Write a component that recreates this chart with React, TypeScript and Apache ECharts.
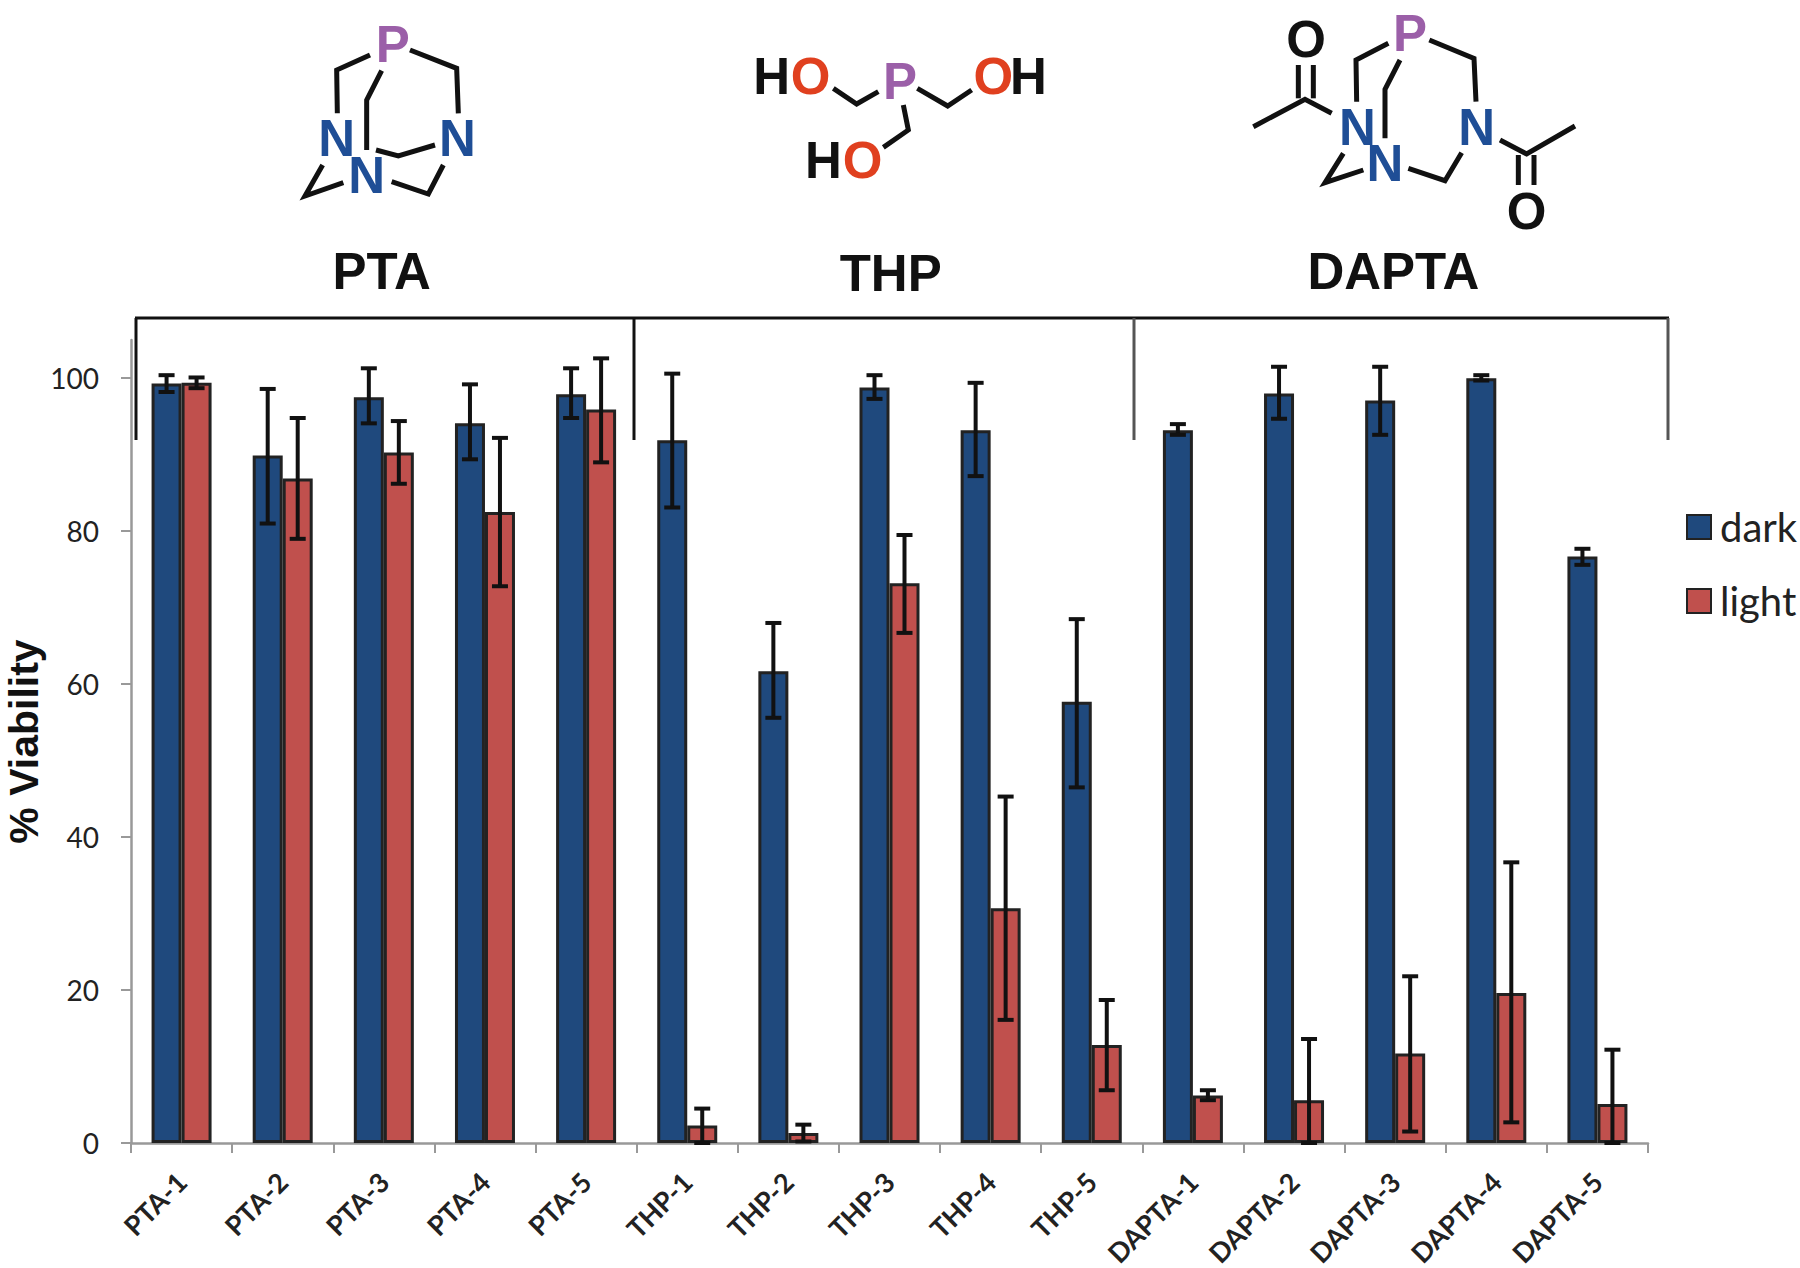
import React, { useEffect, useRef } from "react";
import * as echarts from "echarts";

const categories = ["PTA-1","PTA-2","PTA-3","PTA-4","PTA-5","THP-1","THP-2","THP-3","THP-4","THP-5","DAPTA-1","DAPTA-2","DAPTA-3","DAPTA-4","DAPTA-5"];
const darkValues = [99.3,89.9,97.5,94.1,97.9,91.9,61.7,98.8,93.2,57.7,93.2,98.0,97.1,100.0,76.7];
const darkHigh = [100.4,98.6,101.3,99.2,101.3,100.6,68.0,100.4,99.4,68.5,94.0,101.5,101.5,100.4,77.7];
const darkLow = [98.2,81.0,94.1,89.4,94.8,83.1,55.6,97.3,87.2,46.5,92.6,94.7,92.6,99.7,75.6];
const lightValues = [99.4,86.9,90.3,82.5,95.9,2.3,1.3,73.2,30.7,12.8,6.2,5.6,11.7,19.6,5.1];
const lightHigh = [100.1,94.8,94.4,92.2,102.6,4.5,2.4,79.5,45.3,18.7,6.9,13.6,21.8,36.7,12.2];
const lightLow = [98.7,79.0,86.2,72.8,89.0,0,0.2,66.7,16.1,6.9,5.6,0,1.5,2.7,0];
const yTicks = [0,20,40,60,80,100];

const DARK = "#1F497D";
const LIGHT = "#C0504D";
const BORDER = "#222222";
const BAR_W = 30;
const ARIAL = "'Liberation Sans', Arial, sans-serif";
const LATO = "Lato, sans-serif";
const PURPLE = "#9B5FA8";
const BLUE = "#1F4E96";
const RED = "#E0401F";
const INK = "#111111";

type Pt = [number, number];
const poly = (ox: number, oy: number, pts: Pt[], color = INK, lineWidth = 5) => ({
  type: "polyline",
  silent: true,
  shape: { points: pts.map(([x, y]) => [ox + x / 3, oy + y / 3]) },
  style: { stroke: color, lineWidth, fill: "none", lineJoin: "miter" },
});
const atom = (ox: number, oy: number, text: string, x: number, y: number, fill: string, size = 51) => ({
  type: "text",
  silent: true,
  x: ox + x / 3,
  y: oy + y / 3,
  style: { text, fill, font: `bold ${size}px ${ARIAL}`, textAlign: "center", textVerticalAlign: "middle" },
});
const bracket = (x1: number, y1: number, x2: number, y2: number, color: string) => ({
  type: "line",
  silent: true,
  shape: { x1, y1, x2, y2 },
  style: { stroke: color, lineWidth: 3 },
});

const molecules = () => [
  // PTA
  poly(250, 0, [[360,165],[260,210],[262,340]]),
  poly(250, 0, [[480,150],[620,205],[625,340]]),
  poly(250, 0, [[395,212],[350,300],[350,450]]),
  poly(250, 0, [[378,450],[445,468],[555,435]]),
  poly(250, 0, [[218,495],[165,588],[280,548]]),
  poly(250, 0, [[425,545],[535,582],[580,495]]),
  atom(250, 0, "P", 428, 132, PURPLE),
  atom(250, 0, "N", 260, 415, BLUE),
  atom(250, 0, "N", 350, 527, BLUE),
  atom(250, 0, "N", 622, 415, BLUE),
  atom(250, 0, "PTA", 395, 815, INK),
  // THP
  poly(720, 30, [[340,175],[410,222],[475,185]]),
  poly(720, 30, [[592,175],[683,228],[755,180]]),
  poly(720, 30, [[550,225],[565,300],[490,352]]),
  atom(720, 30, "H", 155, 140, INK),
  atom(720, 30, "O", 272, 140, RED),
  atom(720, 30, "P", 540, 155, PURPLE),
  atom(720, 30, "O", 820, 140, RED),
  atom(720, 30, "H", 925, 140, INK),
  atom(720, 30, "H", 310, 392, INK),
  atom(720, 30, "O", 428, 392, RED),
  atom(720, 30, "THP", 512, 730, INK),
  // DAPTA
  poly(1220, 0, [[505,130],[408,180],[410,305]]),
  poly(1220, 0, [[628,120],[762,175],[768,305]]),
  poly(1220, 0, [[540,180],[495,268],[495,415]]),
  poly(1220, 0, [[100,380],[255,298],[335,340]]),
  poly(1220, 0, [[235,195],[235,295]]),
  poly(1220, 0, [[280,195],[280,295]]),
  poly(1220, 0, [[370,460],[315,548],[430,510]]),
  poly(1220, 0, [[565,505],[675,542],[725,458]]),
  poly(1220, 0, [[840,420],[920,462],[1065,378]]),
  poly(1220, 0, [[895,465],[895,555]]),
  poly(1220, 0, [[942,465],[942,555]]),
  atom(1220, 0, "P", 570, 100, PURPLE),
  atom(1220, 0, "O", 258, 118, INK),
  atom(1220, 0, "N", 412, 382, BLUE),
  atom(1220, 0, "N", 495, 490, BLUE),
  atom(1220, 0, "N", 770, 382, BLUE),
  atom(1220, 0, "O", 920, 635, INK),
  atom(1220, 0, "DAPTA", 520, 815, INK),
  // group bracket
  bracket(135, 318, 1669, 318, "#111111"),
  bracket(136, 318, 136, 440, "#111111"),
  bracket(634, 318, 634, 440, "#111111"),
  bracket(1134, 318, 1134, 440, "#555555"),
  bracket(1668, 318, 1668, 440, "#555555"),
];

const errorSeries = (low: number[], high: number[], side: number) => ({
  type: "custom",
  silent: true,
  z: 5,
  data: categories.map((_, i) => [i, low[i], high[i]]),
  encode: { x: 0, y: [1, 2] },
  renderItem: (_p: any, api: any) => {
    const i = api.value(0);
    const a = api.coord([i, api.value(1)]);
    const b = api.coord([i, api.value(2)]);
    const x = a[0] + (side * BAR_W) / 2;
    const style = { stroke: INK, lineWidth: 4, fill: "none" };
    const cap = 8;
    return {
      type: "group",
      children: [
        { type: "line", shape: { x1: x, y1: a[1], x2: x, y2: b[1] }, style },
        { type: "line", shape: { x1: x - cap, y1: a[1], x2: x + cap, y2: a[1] }, style },
        { type: "line", shape: { x1: x - cap, y1: b[1], x2: x + cap, y2: b[1] }, style },
      ],
    };
  },
});

export default function App() {
  const ref = useRef<HTMLDivElement>(null);
  useEffect(() => {
    const chart = echarts.init(ref.current!, undefined, { renderer: "svg" });
    const barStyle = (color: string) => ({ color, borderColor: BORDER, borderWidth: 3 });
    chart.setOption({
      animation: false,
      backgroundColor: "#ffffff",
      grid: { left: 131, top: 340, width: 1517, height: 803, containLabel: false, outerBoundsMode: "none" },
      legend: {
        orient: "vertical",
        left: 1686,
        top: 507,
        itemWidth: 24,
        itemHeight: 24,
        itemGap: 34,
        padding: 0,
        selectedMode: false,
        icon: "rect",
        data: ["dark", "light"],
        textStyle: { fontFamily: LATO, fontSize: 40, color: "#222222", padding: [0, 0, 0, 4] },
      },
      xAxis: {
        type: "category",
        data: categories,
        axisLine: { lineStyle: { color: "#999999", width: 2.5 } },
        axisTick: { show: true, alignWithLabel: false, length: 10, lineStyle: { color: "#999999", width: 2 } },
        axisLabel: { interval: 0, rotate: 45, margin: 34, fontFamily: LATO, fontWeight: "bold", fontSize: 27, color: "#222222" },
      },
      yAxis: {
        type: "value",
        min: 0,
        max: 105,
        interval: 20,
        name: "% Viability",
        nameLocation: "middle",
        nameGap: 87,
        nameMoveOverlap: false,
        nameTextStyle: { fontFamily: ARIAL, fontWeight: "bold", fontSize: 41, color: "#111111" },
        splitLine: { show: false },
        axisLine: { show: true, lineStyle: { color: "#999999", width: 2.5 } },
        axisTick: { show: true, length: 10, customValues: yTicks, lineStyle: { color: "#999999", width: 2 } },
        axisLabel: { customValues: yTicks, margin: 32, fontFamily: LATO, fontSize: 28, color: "#222222" },
      },
      series: [
        { name: "dark", type: "bar", data: darkValues, barWidth: BAR_W, barGap: "0%", itemStyle: barStyle(DARK) },
        { name: "light", type: "bar", data: lightValues, barWidth: BAR_W, barGap: "0%", itemStyle: barStyle(LIGHT) },
        errorSeries(darkLow, darkHigh, -1),
        errorSeries(lightLow, lightHigh, 1),
      ],
      graphic: { elements: molecules() },
    });
    return () => chart.dispose();
  }, []);
  return <div ref={ref} style={{ position: "fixed", left: 0, top: 0, width: 1800, height: 1268 }} />;
}
